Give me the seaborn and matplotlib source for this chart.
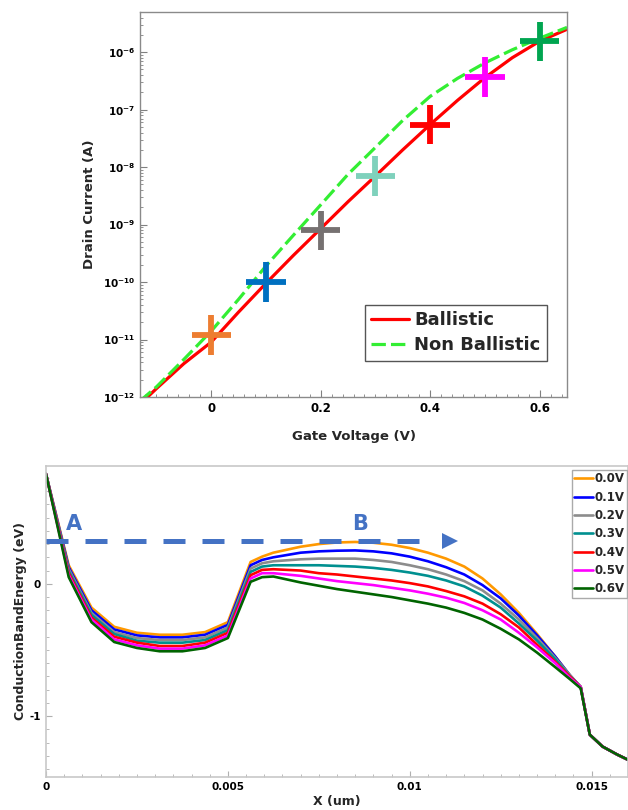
import numpy as np
import pandas as pd
import matplotlib
matplotlib.use("Agg")
import matplotlib.pyplot as plt
import seaborn as sns
from matplotlib.ticker import MultipleLocator, FuncFormatter, LogLocator, NullFormatter

# ---------------- top panel: drain current vs gate voltage
vg = [-0.13, -0.10, -0.05, 0.0, 0.05, 0.10, 0.15, 0.20, 0.25, 0.30, 0.35,
      0.40, 0.45, 0.50, 0.55, 0.60, 0.65]
id_ballistic = [7.5e-13, 1.4e-12, 3.8e-12, 9.0e-12, 3.0e-11, 9.5e-11, 2.9e-10,
                8.5e-10, 2.5e-9, 7.0e-9, 2.0e-8, 5.5e-8, 1.45e-7, 3.6e-7,
                8.0e-7, 1.55e-6, 2.5e-6]
id_nonballistic = [8.5e-13, 1.5e-12, 4.5e-12, 1.4e-11, 5.0e-11, 1.9e-10, 6.5e-10,
                   2.2e-9, 7.5e-9, 2.2e-8, 6.5e-8, 1.7e-7, 3.5e-7, 6.5e-7,
                   1.1e-6, 1.75e-6, 2.7e-6]
mark_vg = [0.0, 0.1, 0.2, 0.3, 0.4, 0.5, 0.6]
mark_id = [1.2e-11, 1.0e-10, 8.0e-10, 7.0e-9, 5.5e-8, 3.7e-7, 1.55e-6]
mark_colors = ["#ed7d31", "#0070c0", "#767171", "#7fd1bc", "#ff0000", "#ff00ff", "#00a550"]

# ---------------- bottom panel: conduction band profile
x_um = [0.0, 0.000625, 0.00125, 0.001875, 0.0025, 0.003125, 0.00375, 0.004375,
        0.005, 0.005625, 0.00594, 0.00625, 0.007, 0.0075, 0.008, 0.0085, 0.009,
        0.0095, 0.010, 0.0105, 0.011, 0.0115, 0.012, 0.0125, 0.013, 0.0135,
        0.014, 0.0144, 0.0147, 0.01495, 0.0153, 0.0157, 0.016]
cb_00 = [0.83, 0.14, -0.18, -0.325, -0.37, -0.385, -0.385, -0.365, -0.29, 0.165, 0.205, 0.235,
         0.28, 0.30, 0.312, 0.316, 0.31, 0.295, 0.27, 0.235, 0.19, 0.13, 0.04, -0.08, -0.22,
         -0.38, -0.55, -0.69, -0.78, -1.14, -1.23, -1.29, -1.33]
cb_01 = [0.83, 0.125, -0.20, -0.345, -0.39, -0.405, -0.405, -0.385, -0.31, 0.14, 0.18, 0.20,
         0.235, 0.245, 0.25, 0.252, 0.245, 0.23, 0.205, 0.17, 0.125, 0.07, -0.01, -0.11,
         -0.24, -0.39, -0.55, -0.69, -0.78, -1.14, -1.23, -1.29, -1.33]
cb_02 = [0.83, 0.11, -0.22, -0.365, -0.41, -0.425, -0.425, -0.405, -0.33, 0.115, 0.155, 0.17,
         0.185, 0.19, 0.19, 0.19, 0.18, 0.165, 0.14, 0.11, 0.07, 0.02, -0.05, -0.15,
         -0.27, -0.41, -0.56, -0.69, -0.78, -1.14, -1.23, -1.29, -1.33]
cb_03 = [0.83, 0.095, -0.235, -0.38, -0.43, -0.445, -0.445, -0.425, -0.35, 0.09, 0.13, 0.14,
         0.14, 0.14, 0.135, 0.13, 0.12, 0.105, 0.085, 0.06, 0.025, -0.02, -0.09, -0.18,
         -0.30, -0.43, -0.57, -0.70, -0.78, -1.14, -1.23, -1.29, -1.33]
cb_04 = [0.83, 0.08, -0.255, -0.40, -0.445, -0.47, -0.47, -0.445, -0.37, 0.065, 0.105, 0.11,
         0.10, 0.08, 0.07, 0.055, 0.04, 0.025, 0.005, -0.02, -0.055, -0.095, -0.15, -0.23,
         -0.33, -0.46, -0.59, -0.70, -0.78, -1.14, -1.23, -1.29, -1.33]
cb_05 = [0.83, 0.065, -0.27, -0.42, -0.465, -0.49, -0.49, -0.465, -0.39, 0.04, 0.08, 0.08,
         0.06, 0.04, 0.02, 0.005, -0.01, -0.03, -0.05, -0.075, -0.105, -0.145, -0.20, -0.27,
         -0.37, -0.48, -0.60, -0.71, -0.78, -1.14, -1.23, -1.29, -1.33]
cb_06 = [0.83, 0.05, -0.29, -0.44, -0.485, -0.51, -0.51, -0.485, -0.41, 0.015, 0.05, 0.055,
         0.01, -0.015, -0.04, -0.06, -0.08, -0.10, -0.125, -0.15, -0.18, -0.22, -0.27, -0.34,
         -0.42, -0.52, -0.63, -0.72, -0.79, -1.14, -1.23, -1.29, -1.33]
bias_labels = ["0.0V", "0.1V", "0.2V", "0.3V", "0.4V", "0.5V", "0.6V"]
bias_colors = ["#ff9900", "#0000ff", "#8c8c8c", "#009090", "#ff0000", "#ff00ff", "#006400"]

# arrow / annotation positions (data coords)
arrow_y = 0.326
arrow_x_end = 0.01058
arrow_head_x = 0.0111
label_a = (0.00078, 0.455, "A")
label_b = (0.00863, 0.455, "B")
arrow_color = "#4472c4"

sns.set_theme(style="ticks")
plt.rcParams['font.family'] = ['DejaVu Sans']
plt.rcParams['font.weight'] = 'bold'

fig = plt.figure(figsize=(6.28, 8.10), dpi=100)
ax1 = fig.add_axes([140/628, 1-397/810, 427/628, 385/810])
ax2 = fig.add_axes([46/628, 1-777/810, 582/628, 311/810])

# ---- top
iv = pd.DataFrame({
    "Vg": vg + vg,
    "Id": id_ballistic + id_nonballistic,
    "model": ["Ballistic"]*len(vg) + ["Non Ballistic"]*len(vg),
})
ax1.set_yscale("log")
sns.lineplot(data=iv, x="Vg", y="Id", hue="model", style="model",
             palette={"Ballistic": "#ff0000", "Non Ballistic": "#33ee33"},
             dashes={"Ballistic": "", "Non Ballistic": (4.5, 1.6)},
             linewidth=2.3, estimator=None, ax=ax1)
sns.scatterplot(x=mark_vg, y=mark_id, hue=[str(v) for v in mark_vg],
                palette=mark_colors, marker="+", s=800, linewidth=4.2,
                legend=False, ax=ax1, zorder=5)

ax1.set_xlim(-0.13, 0.65)
ax1.set_ylim(1e-12, 5e-6)
ax1.xaxis.set_major_locator(MultipleLocator(0.2))
ax1.xaxis.set_minor_locator(MultipleLocator(0.02))
ax1.xaxis.set_major_formatter(FuncFormatter(lambda v, p: "%g" % round(v, 3)))
ax1.yaxis.set_major_locator(LogLocator(base=10, numticks=20))
ax1.yaxis.set_minor_locator(LogLocator(base=10, subs=np.arange(2, 10), numticks=20))
ax1.yaxis.set_minor_formatter(NullFormatter())
ax1.yaxis.set_major_formatter(FuncFormatter(
    lambda v, p: r"$\mathbf{10^{%d}}$" % int(round(np.log10(v)))))
ax1.tick_params(which="both", direction="in", top=False, right=False, colors="#808080",
                labelcolor="black")
ax1.tick_params(which="major", length=5, width=0.8)
ax1.tick_params(which="minor", length=2.5, width=0.6)
ax1.tick_params(axis="x", labelsize=8.5)
ax1.tick_params(axis="y", labelsize=7.5)
for s in ax1.spines.values():
    s.set_color("#8a8a8a")
    s.set_linewidth(1.0)
ax1.set_xlabel("Gate Voltage (V)", fontsize=9.5, fontweight="bold", labelpad=11)
ax1.set_ylabel("Drain Current (A)", fontsize=9.5, fontweight="bold", labelpad=5)

handles, labels = ax1.get_legend_handles_labels()
keep = [(h, l) for h, l in zip(handles, labels) if l in ("Ballistic", "Non Ballistic")]
ax1.legend([k[0] for k in keep], [k[1] for k in keep], loc="lower right",
           bbox_to_anchor=(0.953, 0.094), borderaxespad=0, frameon=True,
           fancybox=False, edgecolor="#555555", framealpha=1,
           prop={"size": 13, "weight": "bold"}, handlelength=2.1,
           handletextpad=0.3, labelspacing=0.4, borderpad=0.35)

# ---- bottom
rows = []
for lab, ys in zip(bias_labels, [cb_00, cb_01, cb_02, cb_03, cb_04, cb_05, cb_06]):
    for xv, yv in zip(x_um, ys):
        rows.append((xv, yv, lab))
cb = pd.DataFrame(rows, columns=["x", "E", "bias"])
sns.lineplot(data=cb, x="x", y="E", hue="bias", hue_order=bias_labels,
             palette=bias_colors, linewidth=1.9, estimator=None, sort=False, ax=ax2)

ax2.plot([0, arrow_x_end], [arrow_y, arrow_y], color=arrow_color, lw=3.6,
         linestyle=(0, (4.4, 3.4)), solid_capstyle="butt", zorder=6)
ax2.plot([arrow_head_x], [arrow_y], marker=">", markersize=11.5, color=arrow_color,
         markeredgewidth=0, zorder=6)
for tx, ty, tt in (label_a, label_b):
    ax2.text(tx, ty, tt, color=arrow_color, fontsize=15, fontweight="bold",
             ha="center", va="center")

ax2.set_xlim(0, 0.016)
ax2.set_ylim(-1.46, 0.89)
ax2.xaxis.set_major_locator(MultipleLocator(0.005))
ax2.xaxis.set_minor_locator(MultipleLocator(0.0005))
ax2.yaxis.set_major_locator(MultipleLocator(1))
ax2.yaxis.set_minor_locator(MultipleLocator(0.1))
ax2.xaxis.set_major_formatter(FuncFormatter(lambda v, p: "%g" % round(v, 4)))
ax2.yaxis.set_major_formatter(FuncFormatter(lambda v, p: "%g" % round(v, 2)))
ax2.tick_params(which="both", direction="in", top=False, right=False, colors="#b0b0b0",
                labelcolor="black", labelsize=7.5)
ax2.tick_params(which="major", length=4, width=0.8)
ax2.tick_params(which="minor", length=2, width=0.6)
for s in ax2.spines.values():
    s.set_color("#c8c8c8")
    s.set_linewidth(1.2)
ax2.set_xlabel("X (um)", fontsize=9, fontweight="bold", labelpad=2)
ax2.set_ylabel("ConductionBandEnergy (eV)", fontsize=9, fontweight="bold", labelpad=2)

h2, l2 = ax2.get_legend_handles_labels()
keep2 = [(h, l) for h, l in zip(h2, l2) if l in bias_labels]
ax2.legend([k[0] for k in keep2], [k[1] for k in keep2], loc="upper right",
           bbox_to_anchor=(0.999, 0.987), borderaxespad=0, frameon=True,
           fancybox=False, edgecolor="#aaaaaa", framealpha=1,
           prop={"size": 8.5, "weight": "bold"}, handlelength=1.6,
           handletextpad=0.15, labelspacing=0.45, borderpad=0.2)

fig.savefig("out.png", dpi=100)
